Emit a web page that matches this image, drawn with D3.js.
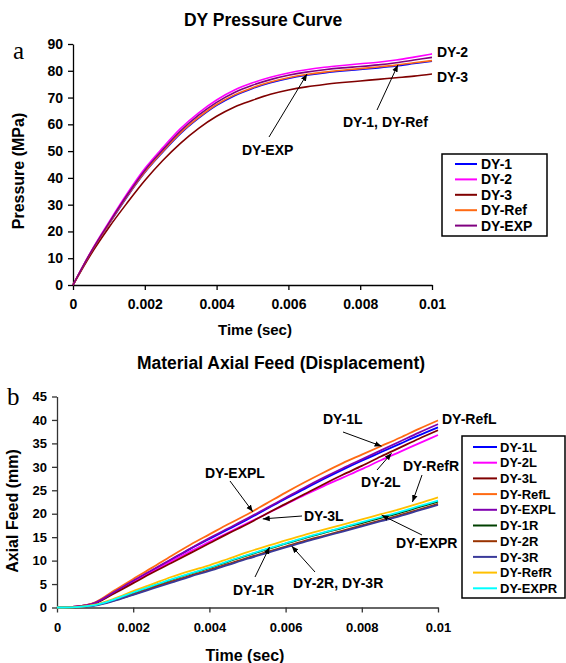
<!DOCTYPE html>
<html>
<head>
<meta charset="utf-8">
<script src="https://cdn.jsdelivr.net/npm/d3@7"></script>
<style>
  html, body { margin: 0; padding: 0; background: #fff; }
  svg { display: block; }
  text { font-family: "Liberation Sans", Arial, sans-serif; font-weight: bold; fill: #000; }
  .panel { font-family: "Liberation Serif", "Times New Roman", serif; font-weight: normal; }
</style>
</head>
<body>
<svg id="chart" width="566" height="663"></svg>
<script>
// ---- shared time base (sec) ----
const time = [0, 0.0005, 0.001, 0.0015, 0.002, 0.0025, 0.003, 0.0035, 0.004, 0.0045, 0.005,
              0.0055, 0.006, 0.0065, 0.007, 0.0075, 0.008, 0.0085, 0.009, 0.0095, 0.01];

// ---- (a) DY pressure curves, MPa ----
const pressureNames = ["DY-1", "DY-2", "DY-3", "DY-Ref", "DY-EXP"];
const pDY1   = [0, 12.2, 22.7, 32.8, 42.0, 49.6, 56.6, 62.3, 67.1, 70.7, 73.4, 75.5, 77.1, 78.3, 79.2, 79.9, 80.5, 81.1, 81.8, 82.7, 83.6];
const pDY2   = [0, 12.5, 23.5, 34.0, 43.5, 51.3, 58.5, 64.3, 69.1, 72.8, 75.5, 77.6, 79.2, 80.4, 81.3, 82.0, 82.6, 83.2, 84.0, 85.1, 86.3];
const pDY3   = [0, 11.5, 21.5, 30.5, 39.0, 46.5, 53.0, 58.5, 63.0, 66.5, 69.0, 71.2, 72.8, 74.0, 74.9, 75.6, 76.2, 76.8, 77.4, 78.0, 78.8];
const pDYRef = [0, 12.2, 22.8, 33.0, 42.2, 49.9, 56.9, 62.6, 67.4, 71.0, 73.7, 75.8, 77.4, 78.6, 79.5, 80.2, 80.8, 81.4, 82.1, 83.0, 83.8];
const pDYEXP = [0, 12.3, 23.1, 33.4, 42.8, 50.5, 57.6, 63.4, 68.2, 71.9, 74.6, 76.7, 78.3, 79.5, 80.4, 81.1, 81.6, 82.2, 83.0, 84.0, 85.0];
const pressureColors = ["#0000ff", "#ff00ff", "#800000", "#ff6a13", "#800080"];
const pressureTicks = [0, 10, 20, 30, 40, 50, 60, 70, 80, 90];

// ---- (b) material axial feed, mm ----
const feedNames = ["DY-1L", "DY-2L", "DY-3L", "DY-RefL", "DY-EXPL", "DY-1R", "DY-2R", "DY-3R", "DY-RefR", "DY-EXPR"];
const fDY1L   = [0, 0.2, 1.0, 3.3, 5.6, 7.9, 10.2, 12.5, 14.6, 16.7, 18.8, 21.0, 23.2, 25.3, 27.4, 29.4, 31.3, 33.1, 34.9, 36.7, 38.4];
const fDY2L   = [0, 0.2, 1.0, 3.2, 5.5, 7.7, 9.9, 12.0, 14.0, 16.0, 18.0, 20.0, 22.0, 24.0, 25.9, 27.7, 29.5, 31.4, 33.2, 35.0, 36.8];
const fDY3L   = [0, 0.2, 0.9, 3.0, 5.2, 7.4, 9.5, 11.6, 13.7, 15.8, 17.8, 20.0, 22.1, 24.2, 26.3, 28.3, 30.2, 32.2, 34.1, 36.0, 37.8];
const fDYRefL = [0, 0.2, 1.1, 3.6, 6.1, 8.5, 11.0, 13.4, 15.6, 17.8, 19.9, 22.2, 24.5, 26.7, 28.8, 30.8, 32.6, 34.4, 36.2, 38.1, 39.9];
const fDYEXPL = [0, 0.2, 1.0, 3.3, 5.7, 8.0, 10.3, 12.6, 14.8, 16.9, 19.0, 21.2, 23.4, 25.6, 27.7, 29.7, 31.6, 33.5, 35.4, 37.3, 39.1];
const fDY1R   = [0, 0.1, 0.5, 1.7, 3.1, 4.5, 5.9, 7.2, 8.4, 9.8, 11.1, 12.4, 13.6, 14.8, 15.9, 17.0, 18.0, 19.1, 20.2, 21.4, 22.6];
const fDY2R   = [0, 0.1, 0.5, 1.5, 2.8, 4.2, 5.5, 6.8, 8.0, 9.3, 10.6, 11.8, 13.0, 14.2, 15.3, 16.4, 17.5, 18.6, 19.7, 20.9, 22.1];
const fDY3R   = [0, 0.1, 0.4, 1.4, 2.7, 4.0, 5.3, 6.6, 7.8, 9.1, 10.4, 11.6, 12.8, 14.0, 15.1, 16.2, 17.3, 18.4, 19.5, 20.7, 21.9];
const fDYRefR = [0, 0.1, 0.6, 1.9, 3.5, 5.0, 6.5, 7.8, 9.0, 10.4, 11.8, 13.1, 14.3, 15.5, 16.6, 17.7, 18.8, 19.9, 21.0, 22.2, 23.5];
const fDYEXPR = [0, 0.1, 0.5, 1.7, 3.2, 4.6, 6.0, 7.3, 8.5, 9.9, 11.2, 12.5, 13.7, 14.9, 16.0, 17.1, 18.2, 19.3, 20.4, 21.6, 22.8];
const feedColors = ["#0000ff", "#ff00ff", "#800000", "#ff6a13", "#8000b0",
                    "#004000", "#993300", "#3a3a9a", "#ffc000", "#00ffff"];
const feedTicks = [0, 5, 10, 15, 20, 25, 30, 35, 40, 45];

const timeTicks = [0, 0.002, 0.004, 0.006, 0.008, 0.01];
const timeTickLabels = ["0", "0.002", "0.004", "0.006", "0.008", "0.01"];

const pressureSeries = [pDY1, pDY2, pDY3, pDYRef, pDYEXP];
const feedSeries = [fDY1L, fDY2L, fDY3L, fDYRefL, fDYEXPL, fDY1R, fDY2R, fDY3R, fDYRefR, fDYEXPR];

const svg = d3.select("#chart");

// arrowhead marker used by the call-out labels
svg.append("defs").append("marker")
  .attr("id", "arrow").attr("viewBox", "0 0 10 10")
  .attr("refX", 10).attr("refY", 5)
  .attr("markerWidth", 7).attr("markerHeight", 7)
  .attr("markerUnits", "userSpaceOnUse")
  .attr("orient", "auto")
  .append("path").attr("d", "M0,1 L10,5 L0,9 Z").attr("fill", "#000");

function drawPanel(cfg) {
  const g = svg.append("g");
  const x = d3.scaleLinear().domain([0, 0.01]).range(cfg.xRange);
  const y = d3.scaleLinear().domain(cfg.yDomain).range(cfg.yRange);

  // axes
  const xAxis = g.append("g")
    .attr("transform", `translate(0,${cfg.yRange[0]})`)
    .call(d3.axisBottom(x).tickValues(timeTicks)
      .tickFormat((d, i) => timeTickLabels[i]).tickSize(5).tickSizeOuter(0).tickPadding(cfg.xPad));
  const yAxis = g.append("g")
    .attr("transform", `translate(${cfg.xRange[0]},0)`)
    .call(d3.axisLeft(y).tickValues(cfg.yTicks).tickSize(5).tickSizeOuter(0).tickPadding(cfg.yPad));
  [xAxis, yAxis].forEach(a => {
    a.selectAll("path, line").attr("stroke", cfg.axisColor).attr("stroke-width", 1.3);
    a.selectAll("text").style("font-size", cfg.tickFont + "px").attr("fill", "#000");
  });

  // series
  const line = d3.line()
    .x((d, i) => x(time[i]))
    .y(d => y(d))
    .curve(d3.curveMonotoneX);
  cfg.series.forEach((s, i) => {
    g.append("path").datum(s)
      .attr("d", line)
      .attr("fill", "none")
      .attr("stroke", cfg.colors[i])
      .attr("stroke-width", cfg.lineWidth)
      .attr("stroke-linejoin", "round");
  });

  // titles
  g.append("text").attr("x", cfg.titlePos[0]).attr("y", cfg.titlePos[1])
    .attr("text-anchor", "middle").style("font-size", "17.5px").text(cfg.title);
  g.append("text").attr("x", cfg.xTitlePos[0]).attr("y", cfg.xTitlePos[1])
    .attr("text-anchor", "middle").style("font-size", cfg.xTitleFont + "px").text("Time (sec)");
  g.append("text")
    .attr("transform", `translate(${cfg.yTitlePos[0]},${cfg.yTitlePos[1]}) rotate(-90)`)
    .attr("text-anchor", "middle").style("font-size", "16px").text(cfg.yTitle);
  g.append("text").attr("class", "panel")
    .attr("x", cfg.panelPos[0]).attr("y", cfg.panelPos[1])
    .style("font-size", "25px").text(cfg.panel);

  // call-outs
  cfg.notes.forEach(n => {
    g.append("text").attr("x", n.tx).attr("y", n.ty)
      .style("font-size", "14px").text(n.text);
    if (n.tip) {
      g.append("line")
        .attr("x1", n.from[0]).attr("y1", n.from[1])
        .attr("x2", x(n.tip[0])).attr("y2", y(n.tip[1]))
        .attr("stroke", "#000").attr("stroke-width", 1)
        .attr("marker-end", "url(#arrow)");
    }
  });

  // legend
  const L = cfg.legend;
  g.append("rect").attr("x", L.x).attr("y", L.y).attr("width", L.w).attr("height", L.h)
    .attr("fill", "#fff").attr("stroke", "#000").attr("stroke-width", 1.5);
  cfg.names.forEach((name, i) => {
    const cy = L.y0 + i * L.step;
    g.append("line").attr("x1", L.lx1).attr("x2", L.lx2).attr("y1", cy).attr("y2", cy)
      .attr("stroke", cfg.colors[i]).attr("stroke-width", 2);
    g.append("text").attr("x", L.tx).attr("y", cy).attr("dy", "0.36em")
      .style("font-size", L.font + "px").text(name);
  });
}

drawPanel({
  panel: "a", panelPos: [13, 59],
  title: "DY Pressure Curve", titlePos: [263, 26],
  yTitle: "Pressure (MPa)", yTitlePos: [24, 171],
  xTitlePos: [255, 335], xTitleFont: 15,
  xRange: [73, 432], yDomain: [0, 90], yRange: [285, 44],
  yTicks: pressureTicks, tickFont: 14, xPad: 9, yPad: 5,
  axisColor: "#000", lineWidth: 1.6,
  series: pressureSeries, colors: pressureColors, names: pressureNames,
  notes: [
    { text: "DY-2", tx: 437, ty: 57 },
    { text: "DY-3", tx: 437, ty: 82 },
    { text: "DY-1, DY-Ref", tx: 343, ty: 127, from: [377, 110], tip: [0.00905, 82.2] },
    { text: "DY-EXP", tx: 242, ty: 155, from: [269, 137], tip: [0.00652, 78.8] }
  ],
  legend: { x: 442, y: 154, w: 105, h: 82, y0: 164, step: 15.4, lx1: 455, lx2: 477, tx: 481, font: 14 }
});

drawPanel({
  panel: "b", panelPos: [7, 405],
  title: "Material Axial Feed (Displacement)", titlePos: [281, 369],
  yTitle: "Axial Feed (mm)", yTitlePos: [18, 511],
  xTitlePos: [245, 661], xTitleFont: 16,
  xRange: [57, 438], yDomain: [0, 45], yRange: [607.5, 396.5],
  yTicks: feedTicks, tickFont: 13, xPad: 10, yPad: 5,
  axisColor: "#333", lineWidth: 1.8,
  series: feedSeries, colors: feedColors, names: feedNames,
  notes: [
    { text: "DY-1L", tx: 323, ty: 424, from: [343, 432], tip: [0.00852, 34.4] },
    { text: "DY-RefL", tx: 442, ty: 424 },
    { text: "DY-2L", tx: 361, ty: 487, from: [377, 470], tip: [0.00878, 32.9] },
    { text: "DY-RefR", tx: 403, ty: 471, from: [422, 475], tip: [0.00933, 22.5] },
    { text: "DY-EXPL", tx: 205, ty: 478, from: [230, 481], tip: [0.00514, 20.4] },
    { text: "DY-3L", tx: 304, ty: 521, from: [302, 516], tip: [0.0054, 18.9] },
    { text: "DY-EXPR", tx: 396, ty: 548, from: [422, 535], tip: [0.00852, 19.7] },
    { text: "DY-2R, DY-3R", tx: 293, ty: 588, from: [315, 572], tip: [0.00616, 13.1] },
    { text: "DY-1R", tx: 233, ty: 595, from: [255, 577], tip: [0.00558, 12.9] }
  ],
  legend: { x: 462, y: 436, w: 103, h: 162, y0: 447, step: 15.7, lx1: 473, lx2: 497, tx: 500, font: 13 }
});
</script>
</body>
</html>
